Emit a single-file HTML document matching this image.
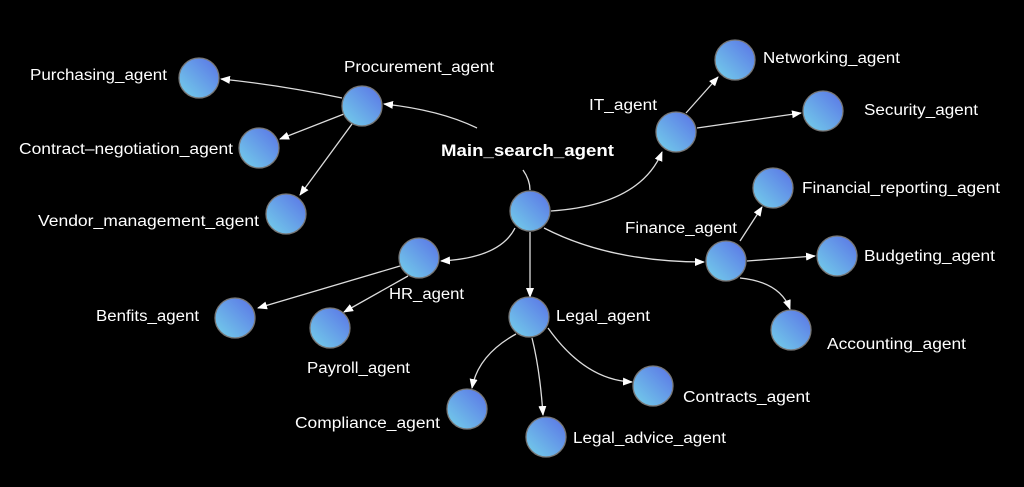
<!DOCTYPE html>
<html><head><meta charset="utf-8"><style>
html,body{margin:0;padding:0;background:#000;}
svg{display:block}
text{font-family:"Liberation Sans",sans-serif;fill:#fff;font-size:15.5px;}
</style></head><body>
<svg width="1024" height="487" viewBox="0 0 1024 487" xmlns="http://www.w3.org/2000/svg">
<defs>
<linearGradient id="g" x1="1" y1="0" x2="0" y2="1">
<stop offset="0" stop-color="#5a72e6"/><stop offset="1" stop-color="#74d2ea"/>
</linearGradient>
<marker id="a" markerWidth="10" markerHeight="8" refX="9" refY="4" orient="auto" markerUnits="userSpaceOnUse">
<path d="M0,0 L10,4 L0,8 z" fill="#fff"/></marker>
</defs>
<g fill="none" stroke="#ddd" stroke-width="1.3">
<path d="M477,128 Q440,110 384,104" marker-end="url(#a)"/>
<path d="M523,170 Q530,180 530,190"/>
<path d="M342,98 Q280,85 221,79" marker-end="url(#a)"/>
<path d="M344,114 L280,139" marker-end="url(#a)"/>
<path d="M352,124 L300,195" marker-end="url(#a)"/>
<path d="M551,211 Q640,205 662,152" marker-end="url(#a)"/>
<path d="M686,113 L718,77" marker-end="url(#a)"/>
<path d="M697,128 L801,113" marker-end="url(#a)"/>
<path d="M544,228 Q610,262 704,262" marker-end="url(#a)"/>
<path d="M740,241 L762,207" marker-end="url(#a)"/>
<path d="M747,261 L815,256" marker-end="url(#a)"/>
<path d="M740,278 Q780,282 790,309" marker-end="url(#a)"/>
<path d="M515,228 Q500,258 441,261" marker-end="url(#a)"/>
<path d="M400,266 L258,308" marker-end="url(#a)"/>
<path d="M408,276 L344,312" marker-end="url(#a)"/>
<path d="M530,232 L530,297" marker-end="url(#a)"/>
<path d="M516,334 Q478,355 472,388" marker-end="url(#a)"/>
<path d="M532,338 Q540,370 543,415" marker-end="url(#a)"/>
<path d="M548,328 Q585,380 632,382" marker-end="url(#a)"/>
</g>
<g fill="url(#g)" stroke="#777" stroke-width="1.3">
<circle cx="530" cy="211" r="20"/>
<circle cx="362" cy="106" r="20"/>
<circle cx="199" cy="78" r="20"/>
<circle cx="259" cy="148" r="20"/>
<circle cx="286" cy="214" r="20"/>
<circle cx="676" cy="132" r="20"/>
<circle cx="735" cy="60" r="20"/>
<circle cx="823" cy="111" r="20"/>
<circle cx="726" cy="261" r="20"/>
<circle cx="773" cy="188" r="20"/>
<circle cx="837" cy="256" r="20"/>
<circle cx="791" cy="330" r="20"/>
<circle cx="419" cy="258" r="20"/>
<circle cx="235" cy="318" r="20"/>
<circle cx="330" cy="328" r="20"/>
<circle cx="529" cy="317" r="20"/>
<circle cx="467" cy="409" r="20"/>
<circle cx="546" cy="437" r="20"/>
<circle cx="653" cy="386" r="20"/>
</g>
<g>
<text x="441" y="156" textLength="173" lengthAdjust="spacingAndGlyphs" style="font-weight:bold;font-size:17px">Main_search_agent</text>
<text x="344" y="72" textLength="150" lengthAdjust="spacingAndGlyphs">Procurement_agent</text>
<text x="30" y="80" textLength="137" lengthAdjust="spacingAndGlyphs">Purchasing_agent</text>
<text x="19" y="154" textLength="214" lengthAdjust="spacingAndGlyphs">Contract–negotiation_agent</text>
<text x="38" y="226" textLength="221" lengthAdjust="spacingAndGlyphs">Vendor_management_agent</text>
<text x="589" y="110" textLength="68" lengthAdjust="spacingAndGlyphs">IT_agent</text>
<text x="763" y="63" textLength="137" lengthAdjust="spacingAndGlyphs">Networking_agent</text>
<text x="864" y="115" textLength="114" lengthAdjust="spacingAndGlyphs">Security_agent</text>
<text x="625" y="233" textLength="112" lengthAdjust="spacingAndGlyphs">Finance_agent</text>
<text x="802" y="193" textLength="198" lengthAdjust="spacingAndGlyphs">Financial_reporting_agent</text>
<text x="864" y="261" textLength="131" lengthAdjust="spacingAndGlyphs">Budgeting_agent</text>
<text x="827" y="349" textLength="139" lengthAdjust="spacingAndGlyphs">Accounting_agent</text>
<text x="389" y="299" textLength="75" lengthAdjust="spacingAndGlyphs">HR_agent</text>
<text x="96" y="321" textLength="103" lengthAdjust="spacingAndGlyphs">Benfits_agent</text>
<text x="307" y="373" textLength="103" lengthAdjust="spacingAndGlyphs">Payroll_agent</text>
<text x="556" y="321" textLength="94" lengthAdjust="spacingAndGlyphs">Legal_agent</text>
<text x="295" y="428" textLength="145" lengthAdjust="spacingAndGlyphs">Compliance_agent</text>
<text x="573" y="443" textLength="153" lengthAdjust="spacingAndGlyphs">Legal_advice_agent</text>
<text x="683" y="402" textLength="127" lengthAdjust="spacingAndGlyphs">Contracts_agent</text>
</g>
</svg>
</body></html>
